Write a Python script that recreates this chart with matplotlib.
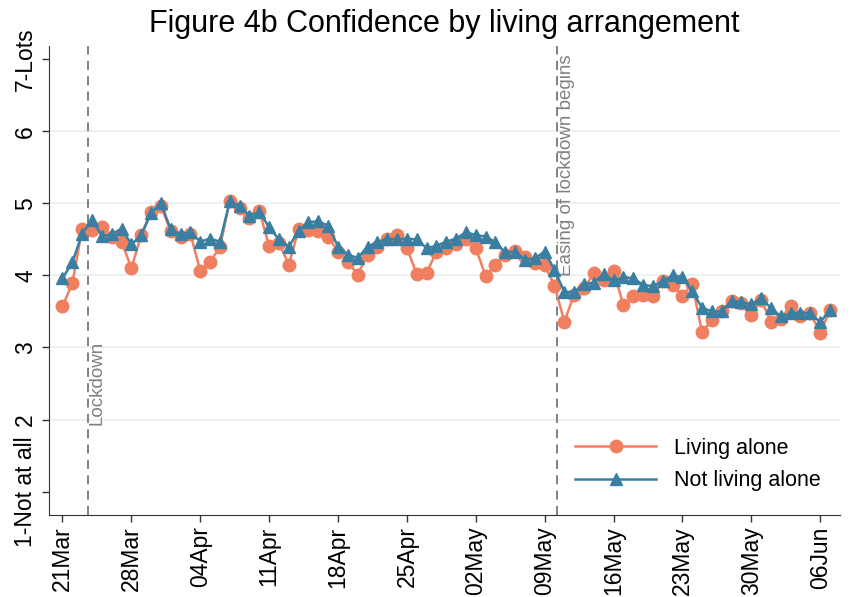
import numpy as np
import pandas as pd
import matplotlib
matplotlib.use("Agg")
import matplotlib.pyplot as plt
import matplotlib.dates as mdates

plt.rcParams['font.family'] = ['Liberation Sans', 'DejaVu Sans']

# daily averages, 21 Mar - 07 Jun
dates = pd.date_range("2020-03-21", periods=79, freq="D")

living_alone = [
    3.57, 3.89, 4.65, 4.63, 4.67, 4.54, 4.47, 4.10, 4.56, 4.88,
    4.97, 4.61, 4.54, 4.58, 4.06, 4.19, 4.39, 5.03, 4.93, 4.80,
    4.90, 4.41, 4.45, 4.15, 4.64, 4.63, 4.61, 4.54, 4.33, 4.19,
    4.01, 4.29, 4.39, 4.50, 4.56, 4.38, 4.02, 4.03, 4.33, 4.38,
    4.43, 4.50, 4.38, 3.99, 4.15, 4.29, 4.34, 4.26, 4.17, 4.14,
    3.86, 3.36, 3.73, 3.82, 4.03, 3.94, 4.06, 3.59, 3.71, 3.73,
    3.71, 3.92, 3.87, 3.72, 3.88, 3.21, 3.38, 3.50, 3.65, 3.62,
    3.45, 3.66, 3.36, 3.40, 3.58, 3.44, 3.48, 3.20, 3.52,
]
not_living_alone = [
    3.96, 4.18, 4.58, 4.77, 4.55, 4.57, 4.65, 4.43, 4.56, 4.87,
    5.00, 4.64, 4.57, 4.60, 4.47, 4.51, 4.47, 5.03, 4.97, 4.83,
    4.88, 4.67, 4.50, 4.40, 4.62, 4.74, 4.75, 4.69, 4.40, 4.29,
    4.24, 4.40, 4.46, 4.51, 4.50, 4.51, 4.50, 4.38, 4.41, 4.47,
    4.51, 4.60, 4.56, 4.54, 4.46, 4.32, 4.33, 4.22, 4.24, 4.33,
    4.08, 3.77, 3.77, 3.88, 3.90, 4.02, 3.93, 3.98, 3.96, 3.87,
    3.85, 3.92, 4.00, 3.98, 3.78, 3.55, 3.50, 3.50, 3.65, 3.63,
    3.60, 3.68, 3.55, 3.43, 3.48, 3.48, 3.48, 3.35, 3.52,
]

ytick_vals = [1, 2, 3, 4, 5, 6, 7]
ytick_labels = ["1-Not at all", "2", "3", "4", "5", "6", "7-Lots"]

lockdown = pd.Timestamp("2020-03-23 14:00")
easing = pd.Timestamp("2020-05-10 07:00")

orange = "#f07f60"
blue = "#3a7fa2"

fig = plt.figure(figsize=(8.54, 5.97), dpi=100)
ax = fig.add_axes([0.0574, 0.138, 0.926, 0.785])

ax.plot(dates, living_alone, color=orange, marker="o", markersize=9,
        linewidth=1.8, label="Living alone", zorder=3)
ax.plot(dates, not_living_alone, color=blue, marker="^", markersize=8.5,
        linewidth=1.8, label="Not living alone", zorder=4)

for v in [2, 3, 4, 5, 6]:
    ax.axhline(v, color="#e8f0f2", linewidth=1.2, zorder=1)

ax.axvline(lockdown, color="#777777", linestyle=(0, (5, 3.5)), linewidth=1.3, zorder=2)
ax.axvline(easing, color="#777777", linestyle=(0, (5, 3.5)), linewidth=1.3, zorder=2)
ax.text(lockdown + pd.Timedelta(hours=2), 1.93, "Lockdown", rotation=90,
        color="#808080", fontsize=13.5, ha="left", va="bottom")
ax.text(easing + pd.Timedelta(hours=2), 3.99, "Easing of lockdown begins", rotation=90,
        color="#808080", fontsize=13.5, ha="left", va="bottom")

ax.set_ylim(0.68, 7.185)
ax.set_xlim(dates[0] - pd.Timedelta(days=1.37), dates[0] + pd.Timedelta(days=79.0))
ax.set_yticks(ytick_vals)
ax.set_yticklabels(ytick_labels, rotation=90, va="center", fontsize=16.5)

xt = pd.date_range("2020-03-21", "2020-06-06", freq="7D")
ax.set_xticks(xt)
ax.xaxis.set_major_formatter(mdates.DateFormatter("%d%b"))
plt.setp(ax.get_xticklabels(), rotation=90, fontsize=16.5)

ax.tick_params(axis="both", direction="out", length=5, width=1, color="#333333")
for s in ["top", "right"]:
    ax.spines[s].set_visible(False)
for s in ["left", "bottom"]:
    ax.spines[s].set_color("#333333")

ax.set_title("Figure 4b Confidence by living arrangement", fontsize=22, pad=10)

ax.legend(loc="lower right", frameon=False, fontsize=15.5, handlelength=3.8,
          bbox_to_anchor=(1.0, 0.008), labelspacing=0.55)

fig.savefig("out.png", dpi=100)
